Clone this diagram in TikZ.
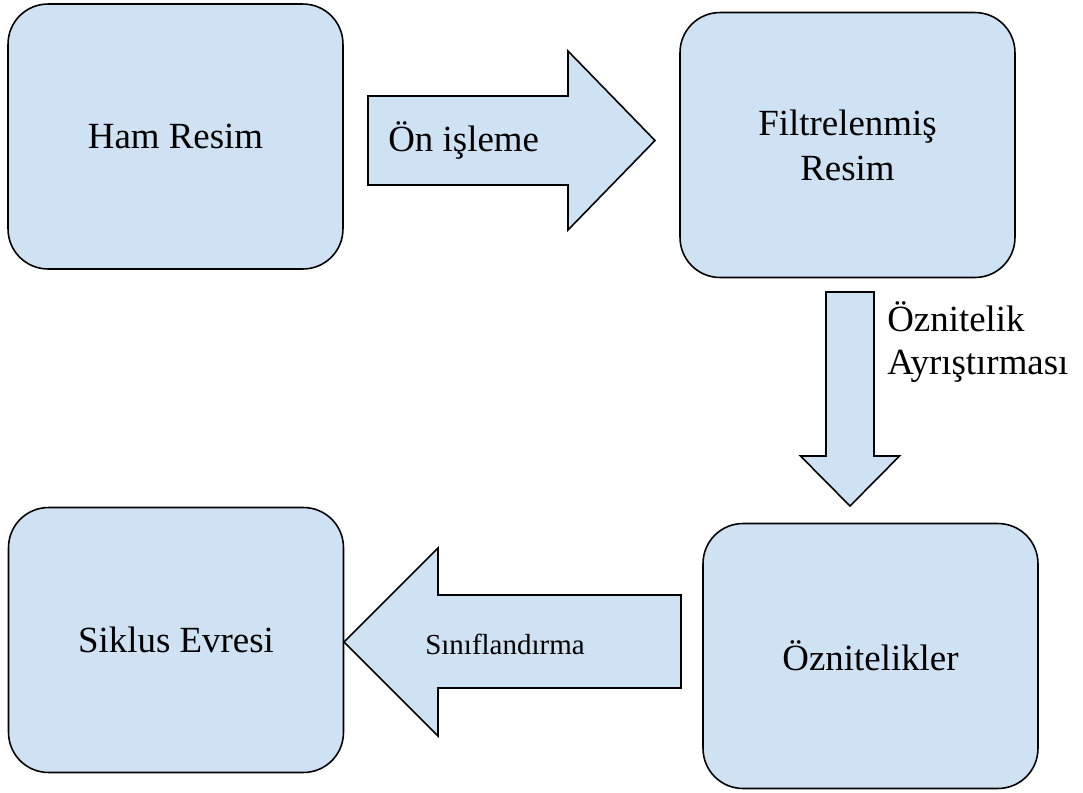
\documentclass[tikz,border=0pt]{standalone}
\usepackage{fontspec}
\setmainfont{Liberation Serif}
\usepackage{xcolor}
\usepackage{tikz}
\usetikzlibrary{calc}

\definecolor{boxblue}{RGB}{207,226,243}

\tikzset{
	box/.style = {draw, line width=0.9pt, fill=boxblue, rounded corners=0.8cm,
		minimum width=6.7cm, minimum height=5.3cm, align=center,
		font=\fontsize{21}{25.5}\selectfont},
	blockarrow/.style = {draw, line width=0.9pt, fill=boxblue, line join=miter},
	arrowtext/.style = {font=\fontsize{21}{21}\selectfont, inner sep=0pt}
}

\begin{document}
\begin{tikzpicture}[x=0.02cm, y=-0.02cm]
			\useasboundingbox (0,0) rectangle (1083,792);

			\node [box] (ham) at (175.5,136.5) {Ham Resim};
			\node [box] (filtre) at (847.5,145) {Filtrelenmiş\\Resim};
			\node [box] (oznitelik) at (870.5,656) {Öznitelikler};
			\node [box] (siklus) at (176,640) {Siklus Evresi};

			\draw [blockarrow] (368,96) -- (568,96) -- (568,51) -- (655,140.5)
				-- (568,230) -- (568,185) -- (368,185) -- cycle;
			\draw [blockarrow] (826,292) -- (874,292) -- (874,456) -- (899.5,456)
				-- (850,506) -- (800.5,456) -- (826,456) -- cycle;
			\draw [blockarrow] (681,595) -- (438,595) -- (438,548) -- (344,642)
				-- (438,736) -- (438,688) -- (681,688) -- cycle;

			\node [arrowtext, anchor=west] (onisleme) at (388,140) {Ön işleme};
			\node [arrowtext, anchor=west, align=left,
				font=\fontsize{21}{24}\selectfont] (ayristirma) at (887,342)
				{Öznitelik\\Ayrıştırması};
			\node [arrowtext, font=\fontsize{16.5}{18}\selectfont]
				(siniflandirma) at (505,644) {Sınıflandırma};
		\end{tikzpicture}
\end{document}
